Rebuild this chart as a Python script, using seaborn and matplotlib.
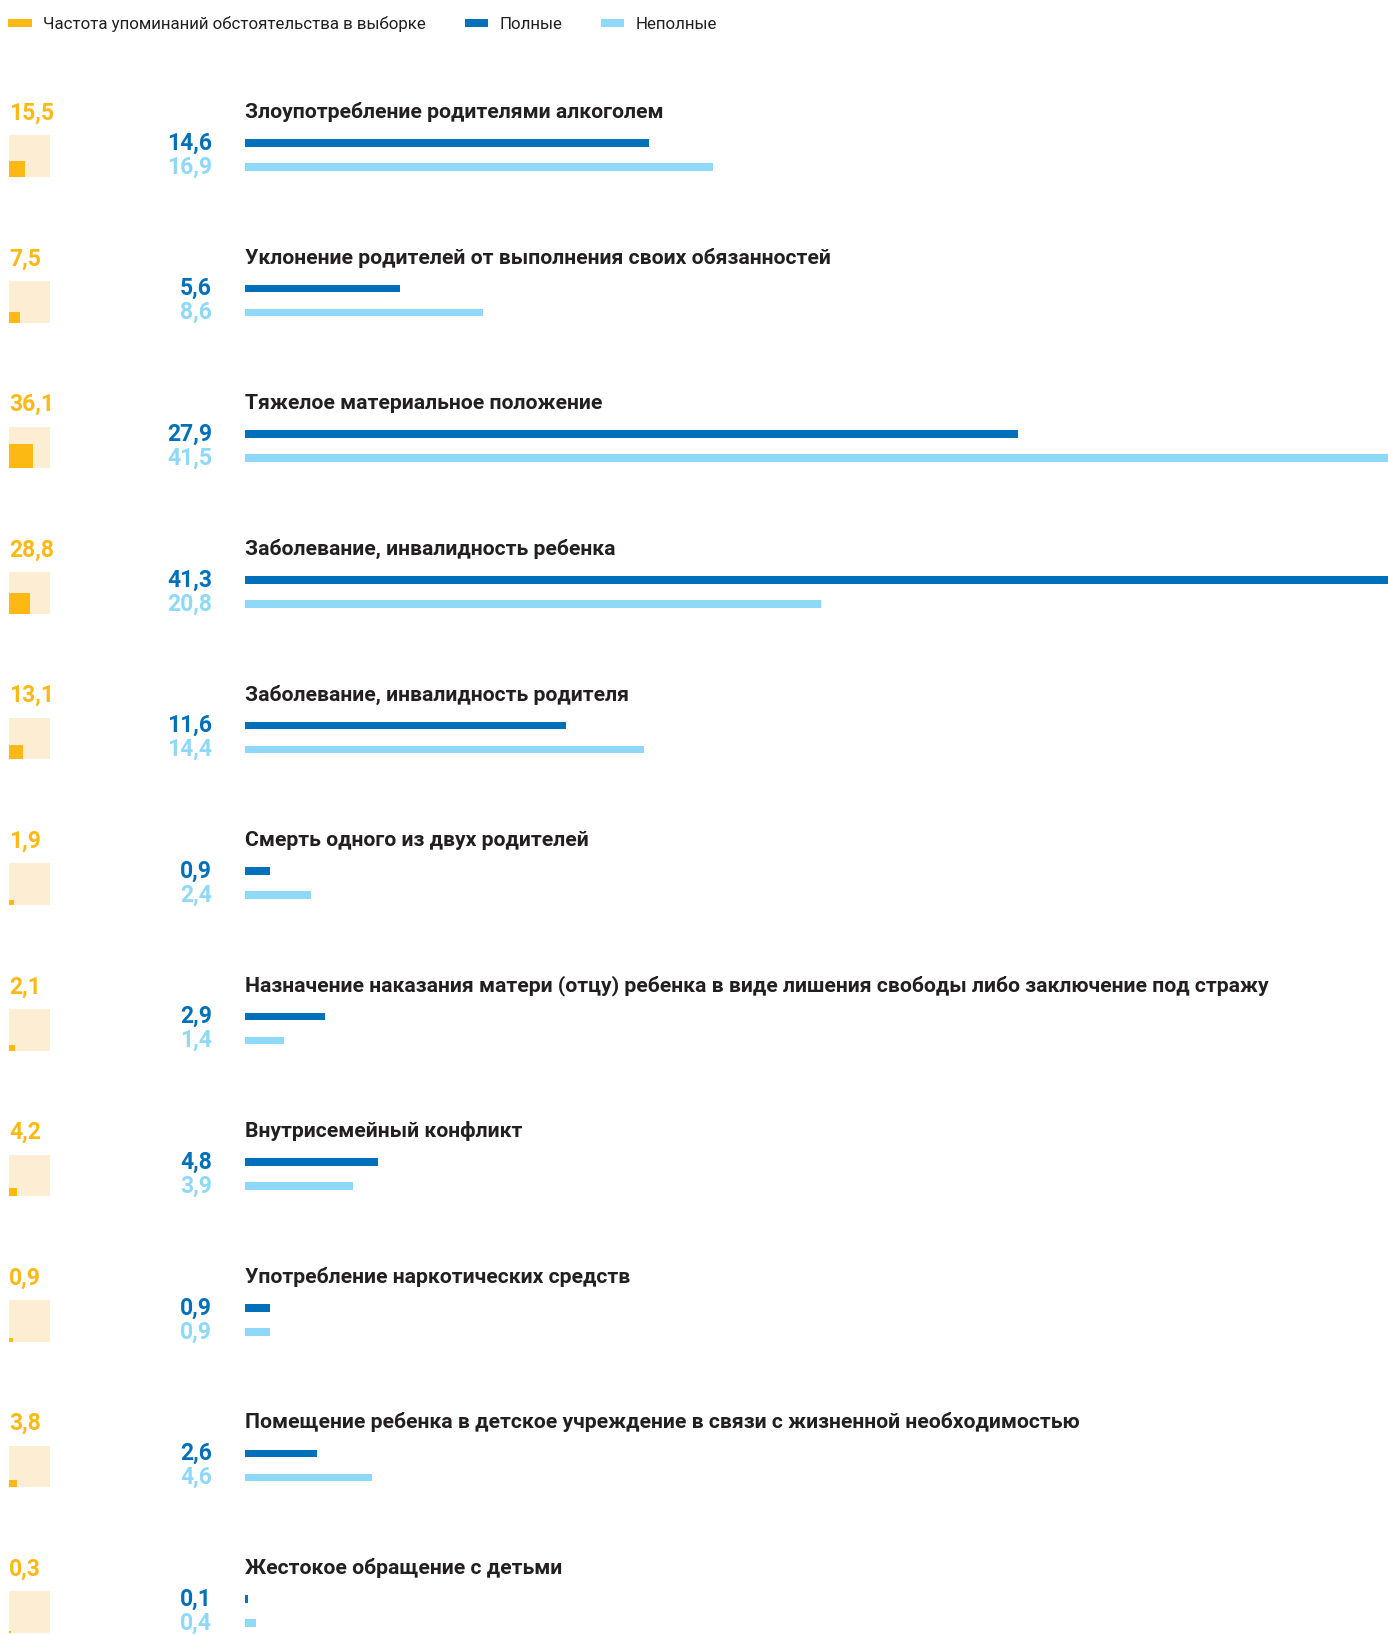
import pandas as pd
import seaborn as sns
import matplotlib.pyplot as plt
from matplotlib.patches import Rectangle, Patch

categories = [
    "Злоупотребление родителями алкоголем",
    "Уклонение родителей от выполнения своих обязанностей",
    "Тяжелое материальное положение",
    "Заболевание, инвалидность ребенка",
    "Заболевание, инвалидность родителя",
    "Смерть одного из двух родителей",
    "Назначение наказания матери (отцу) ребенка в виде лишения свободы либо заключение под стражу",
    "Внутрисемейный конфликт",
    "Употребление наркотических средств",
    "Помещение ребенка в детское учреждение в связи с жизненной необходимостью",
    "Жестокое обращение с детьми",
]
freq = [15.5, 7.5, 36.1, 28.8, 13.1, 1.9, 2.1, 4.2, 0.9, 3.8, 0.3]
full_fam = [14.6, 5.6, 27.9, 41.3, 11.6, 0.9, 2.9, 4.8, 0.9, 2.6, 0.1]
incomplete_fam = [16.9, 8.6, 41.5, 20.8, 14.4, 2.4, 1.4, 3.9, 0.9, 4.6, 0.4]
legend_labels = ["Частота упоминаний обстоятельства в выборке", "Полные", "Неполные"]

ORANGE = "#FDB913"
CREAM = "#FDEED3"
BLUE = "#0070BA"
LIGHT = "#8ED8F8"
TEXT = "#231F20"

sns.set_theme(style="white")
plt.rcParams["font.family"] = ["Roboto", "DejaVu Sans"]

W, H = 1388, 1635
PITCH = 145.6          # px per row
TOP0 = 155.0           # px, centre of first row's bar pair
X0 = 245               # px, start of bars
ylim = ((H - TOP0) / PITCH, -TOP0 / PITCH)

fmt = lambda v: f"{v:.1f}".replace(".", ",")

df = pd.DataFrame({
    "cat": categories * 2,
    "value": full_fam + incomplete_fam,
    "group": [legend_labels[1]] * len(categories) + [legend_labels[2]] * len(categories),
})

fig = plt.figure(figsize=(W / 100, H / 100), dpi=100)

# bars
ax = fig.add_axes([X0 / W, 0, 1 - X0 / W, 1])
sns.barplot(data=df, y="cat", x="value", hue="group", orient="h",
            palette={legend_labels[1]: BLUE, legend_labels[2]: LIGHT},
            width=0.33, dodge=True, saturation=1, linewidth=0,
            legend=False, errorbar=None, ax=ax)
ax.set_xlim(0, (W - X0) / 27.7)
ax.set_ylim(*ylim)
thick = 7.5 / PITCH
for p in ax.patches:
    c = p.get_y() + p.get_height() / 2
    p.set_y(c - thick / 2)
    p.set_height(thick)
for i, cat in enumerate(categories):
    ax.text(0, i - 0.295, cat, ha="left", va="center", fontsize=15.2,
            fontweight=600, color=TEXT)
ax.axis("off")

# left column: frequency squares and value labels
ax2 = fig.add_axes([0, 0, X0 / W, 1])
ax2.set_xlim(0, X0 / PITCH)
ax2.set_ylim(*ylim)
ax2.axis("off")
bg = 41.5 / PITCH
x_sq = 9 / PITCH
for i, v in enumerate(freq):
    bottom = i + 0.151
    ax2.add_patch(Rectangle((x_sq, bottom - bg), bg, bg, color=CREAM, lw=0))
    s = bg * (v / 110) ** 0.5
    ax2.add_patch(Rectangle((x_sq, bottom - s), s, s, color=ORANGE, lw=0))
    ax2.text(x_sq, i - 0.286, fmt(v), ha="left", va="center", fontsize=16.5,
             fontweight="bold", color=ORANGE)
    ax2.text(212 / PITCH, i - 0.0824, fmt(full_fam[i]), ha="right", va="center",
             fontsize=16.5, fontweight="bold", color=BLUE)
    ax2.text(212 / PITCH, i + 0.0824, fmt(incomplete_fam[i]), ha="right", va="center",
             fontsize=16.5, fontweight="bold", color=LIGHT)

handles = [Patch(color=c, lw=0) for c in (ORANGE, BLUE, LIGHT)]
fig.legend(handles, legend_labels, loc="upper left", ncol=3, frameon=False,
           bbox_to_anchor=(8.3 / W, 1 - 16 / H), borderaxespad=0, borderpad=0,
           fontsize=12.2, handlelength=1.38, handleheight=0.36,
           handletextpad=0.66, columnspacing=2.3, labelcolor=TEXT)

fig.savefig("out.png", dpi=100)
plt.close(fig)
